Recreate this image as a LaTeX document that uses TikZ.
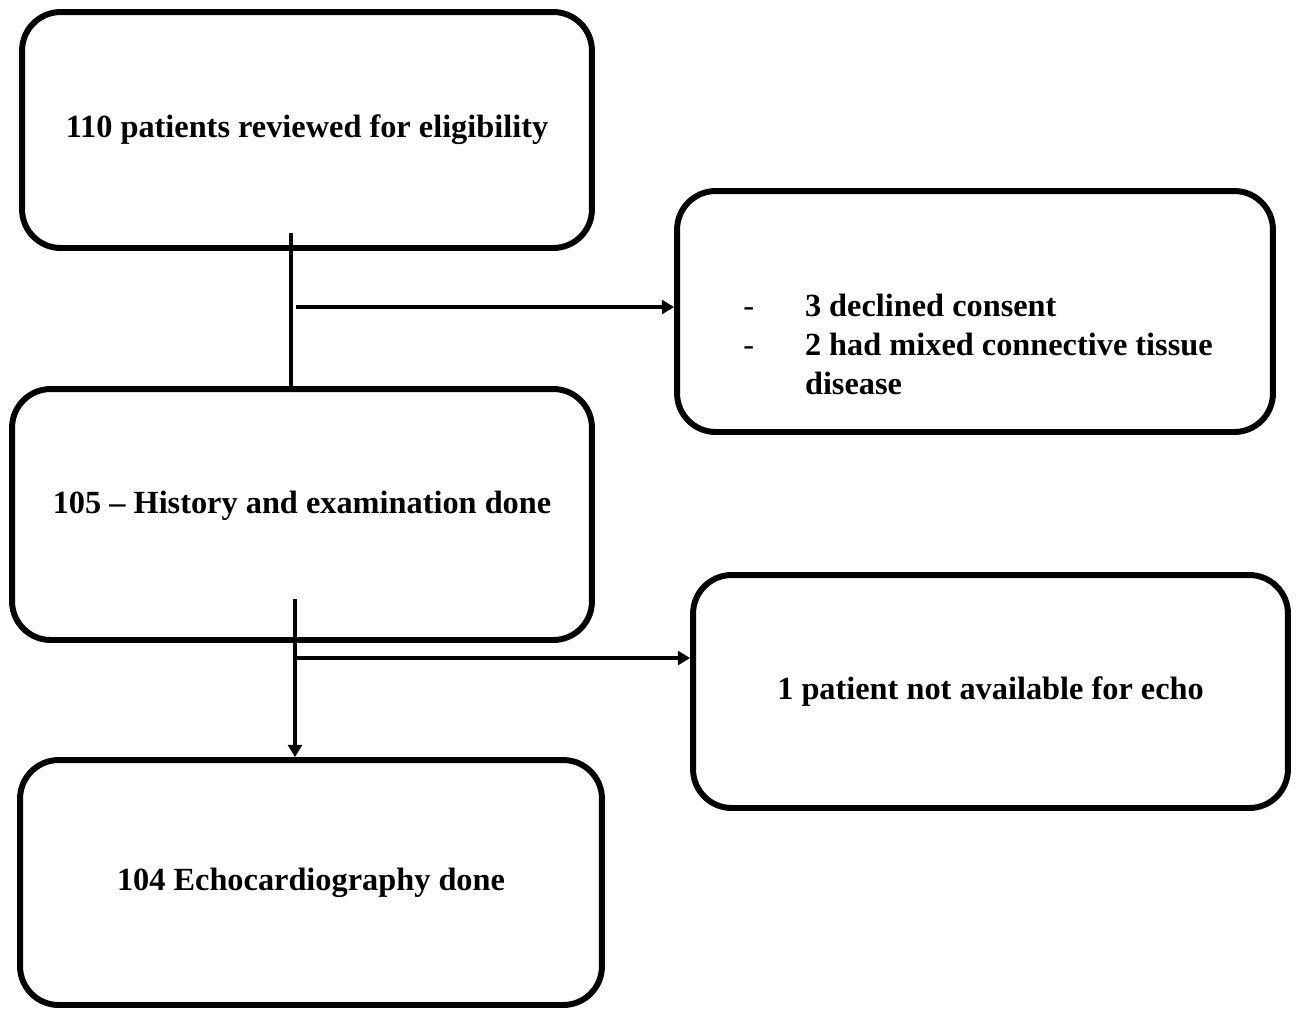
\documentclass[tikz,border=0pt]{standalone}
\usepackage{fontspec}
\setmainfont{Liberation Serif}
\usepackage{tikz}
\usetikzlibrary{arrows.meta}
\tikzstyle{flowbox} = [draw, line width=3.4pt, rounded corners=22pt, inner sep=0pt, align=center, font=\fontsize{18.4}{22.3}\selectfont\bfseries]
\tikzstyle{flowline} = [line width=2.3pt]
\tikzstyle{flowarrow} = [line width=2.3pt, -{Triangle[length=7pt,width=8pt]}]

\begin{document}
\begin{tikzpicture}[x=0.02cm,y=-0.02cm]
			\useasboundingbox (0,0) rectangle (1301,1012);
			\node[flowbox, minimum width=11.4cm, minimum height=4.72cm] (screened) at (307,130) {110 patients reviewed for eligibility};
			\node[flowbox, minimum width=11.92cm, minimum height=4.82cm, text height=1.75cm, text depth=0pt] (excluded) at (975,311.5) {%
				\begin{tabular}{@{\hspace{0.12cm}}l@{\hspace{29pt}}l@{}}
					\textmd{-} & 3 declined consent\\
					\textmd{-} & 2 had mixed connective tissue\\
					& disease
				\end{tabular}};
			\node[flowbox, minimum width=11.6cm, minimum height=5.02cm, text depth=0.5cm] (examined) at (302,514.5) {105 -- History and examination done};
			\node[flowbox, minimum width=11.9cm, minimum height=4.66cm] (noecho) at (990.5,691.5) {1 patient not available for echo};
			\node[flowbox, minimum width=11.64cm, minimum height=4.9cm] (echo) at (311,882.5) {104 Echocardiography done};
			\coordinate (down1) at (291,233);
			\coordinate (side1) at (296,307);
			\coordinate (down2) at (295,599);
			\coordinate (side2) at (297,658);
			\draw[flowline] (down1) -- (down1 |- examined.north);
			\draw[flowarrow] (side1) -- (side1 -| excluded.west);
			\draw[flowarrow] (down2) -- (down2 |- echo.north);
			\draw[flowarrow] (side2) -- (side2 -| noecho.west);
		\end{tikzpicture}
\end{document}
